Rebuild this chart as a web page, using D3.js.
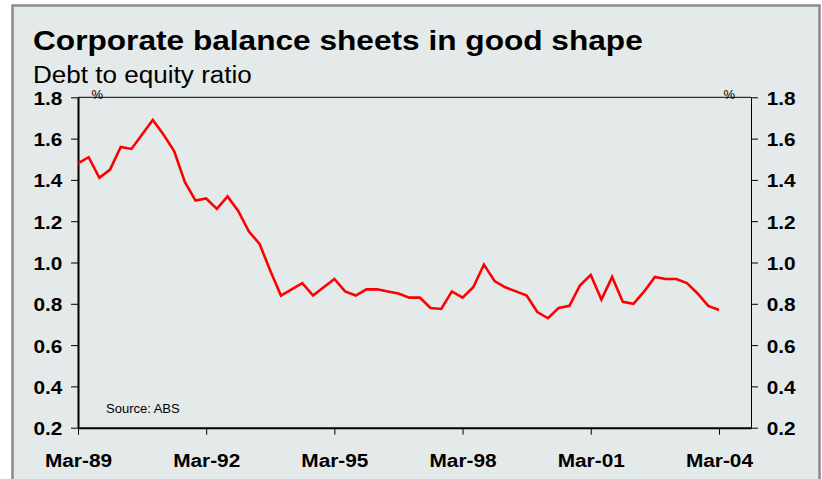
<!DOCTYPE html>
<html>
<head>
<meta charset="utf-8">
<script src="https://cdn.jsdelivr.net/npm/d3@7"></script>
<style>
  html, body { margin: 0; padding: 0; background: #ffffff; }
  svg { display: block; font-family: "Liberation Sans", Arial, Helvetica, sans-serif; }
</style>
</head>
<body>
<svg id="chart" width="822" height="479"></svg>
<script>
// Quarterly debt-to-equity ratio, Mar-89 through Mar-04
const quarters = d3.range(61);
const ratio = [
  1.48, 1.51, 1.41, 1.45,
  1.56, 1.55, 1.62, 1.69,
  1.62, 1.54, 1.39, 1.30,
  1.31, 1.26, 1.32, 1.25,
  1.15, 1.09, 0.96, 0.84,
  0.87, 0.90, 0.84, 0.88,
  0.92, 0.86, 0.84, 0.87,
  0.87, 0.86, 0.85, 0.83,
  0.83, 0.78, 0.775, 0.86,
  0.83, 0.88, 0.99, 0.91,
  0.88, 0.86, 0.84, 0.76,
  0.73, 0.78, 0.79, 0.89,
  0.94, 0.82, 0.93, 0.81,
  0.80, 0.86, 0.93, 0.92,
  0.92, 0.90, 0.85, 0.79,
  0.77
];
const xTickQuarters = [0, 12, 24, 36, 48, 60];
const xTickLabels = ["Mar-89", "Mar-92", "Mar-95", "Mar-98", "Mar-01", "Mar-04"];
const yTicks = [0.2, 0.4, 0.6, 0.8, 1.0, 1.2, 1.4, 1.6, 1.8];

const svg = d3.select("#chart");
const stretch = "scale(1.12,1)";

// Panel frame
svg.append("rect")
  .attr("x", 12.5).attr("y", 5.5)
  .attr("width", 807).attr("height", 500)
  .attr("fill", "#e4e9e9")
  .attr("stroke", "#8a8a8a")
  .attr("stroke-width", 2.5);

const plotLeft = 78, plotRight = 751, plotTop = 97.3, plotBottom = 427.7;

const x = d3.scaleLinear().domain([0, 63]).range([plotLeft, plotRight]);
const y = d3.scaleLinear().domain([0.2, 1.8]).range([plotBottom, plotTop]);

// Titles
svg.append("text")
  .attr("transform", "translate(33,50) scale(1.13,1)")
  .attr("font-size", 28).attr("font-weight", "bold").attr("fill", "#000")
  .text("Corporate balance sheets in good shape");
svg.append("text")
  .attr("transform", "translate(33,83.3) " + stretch)
  .attr("font-size", 23.3).attr("fill", "#000")
  .text("Debt to equity ratio");

// Top edge of the plot area (thin)
svg.append("line")
  .attr("x1", plotLeft).attr("x2", plotRight).attr("y1", plotTop).attr("y2", plotTop)
  .attr("stroke", "#000").attr("stroke-width", 1);

// Left axis
const yLeft = svg.append("g")
  .attr("transform", `translate(${plotLeft},0)`)
  .call(d3.axisLeft(y).tickValues(yTicks).tickFormat(d3.format(".1f"))
    .tickSize(7).tickSizeOuter(0).tickPadding(7));
yLeft.select(".domain").attr("stroke-width", 2);

// Right axis
const yRight = svg.append("g")
  .attr("transform", `translate(${plotRight},0)`)
  .call(d3.axisRight(y).tickValues(yTicks).tickFormat(d3.format(".1f"))
    .tickSize(7).tickSizeOuter(0).tickPadding(7));
yRight.select(".domain").attr("stroke-width", 1);

[yLeft, yRight].forEach(g => {
  g.selectAll("text")
    .attr("font-size", 18.6).attr("font-weight", "bold")
    .attr("font-family", "'Liberation Sans', Arial, sans-serif")
    .attr("fill", "#000").attr("dy", "0.38em")
    .attr("transform", stretch);
  g.selectAll(".tick line").attr("stroke", "#000");
});

// Bottom axis
const xAxis = svg.append("g")
  .attr("transform", `translate(0,${plotBottom})`)
  .call(d3.axisBottom(x).tickValues(xTickQuarters)
    .tickFormat((d, i) => xTickLabels[i])
    .tickSize(7).tickSizeOuter(0).tickPadding(18.8));
xAxis.select(".domain").attr("stroke-width", 2);
xAxis.selectAll("text")
  .attr("font-size", 18.6).attr("font-weight", "bold")
  .attr("font-family", "'Liberation Sans', Arial, sans-serif")
  .attr("fill", "#000")
  .attr("transform", stretch);

// Unit markers
svg.append("text").attr("x", 91.5).attr("y", 98.5)
  .attr("font-size", 13).attr("fill", "#000").text("%");
svg.append("text").attr("x", 723.5).attr("y", 98.5)
  .attr("font-size", 13).attr("fill", "#000").text("%");

// Source note
svg.append("text").attr("x", 106).attr("y", 413.3)
  .attr("font-size", 13).attr("fill", "#000").text("Source: ABS");

// Series line
const line = d3.line()
  .x((d, i) => x(quarters[i]))
  .y(d => y(d));
svg.append("path")
  .datum(ratio)
  .attr("d", line)
  .attr("fill", "none")
  .attr("stroke", "#ff0000")
  .attr("stroke-width", 2.6)
  .attr("stroke-linejoin", "miter");
</script>
</body>
</html>
